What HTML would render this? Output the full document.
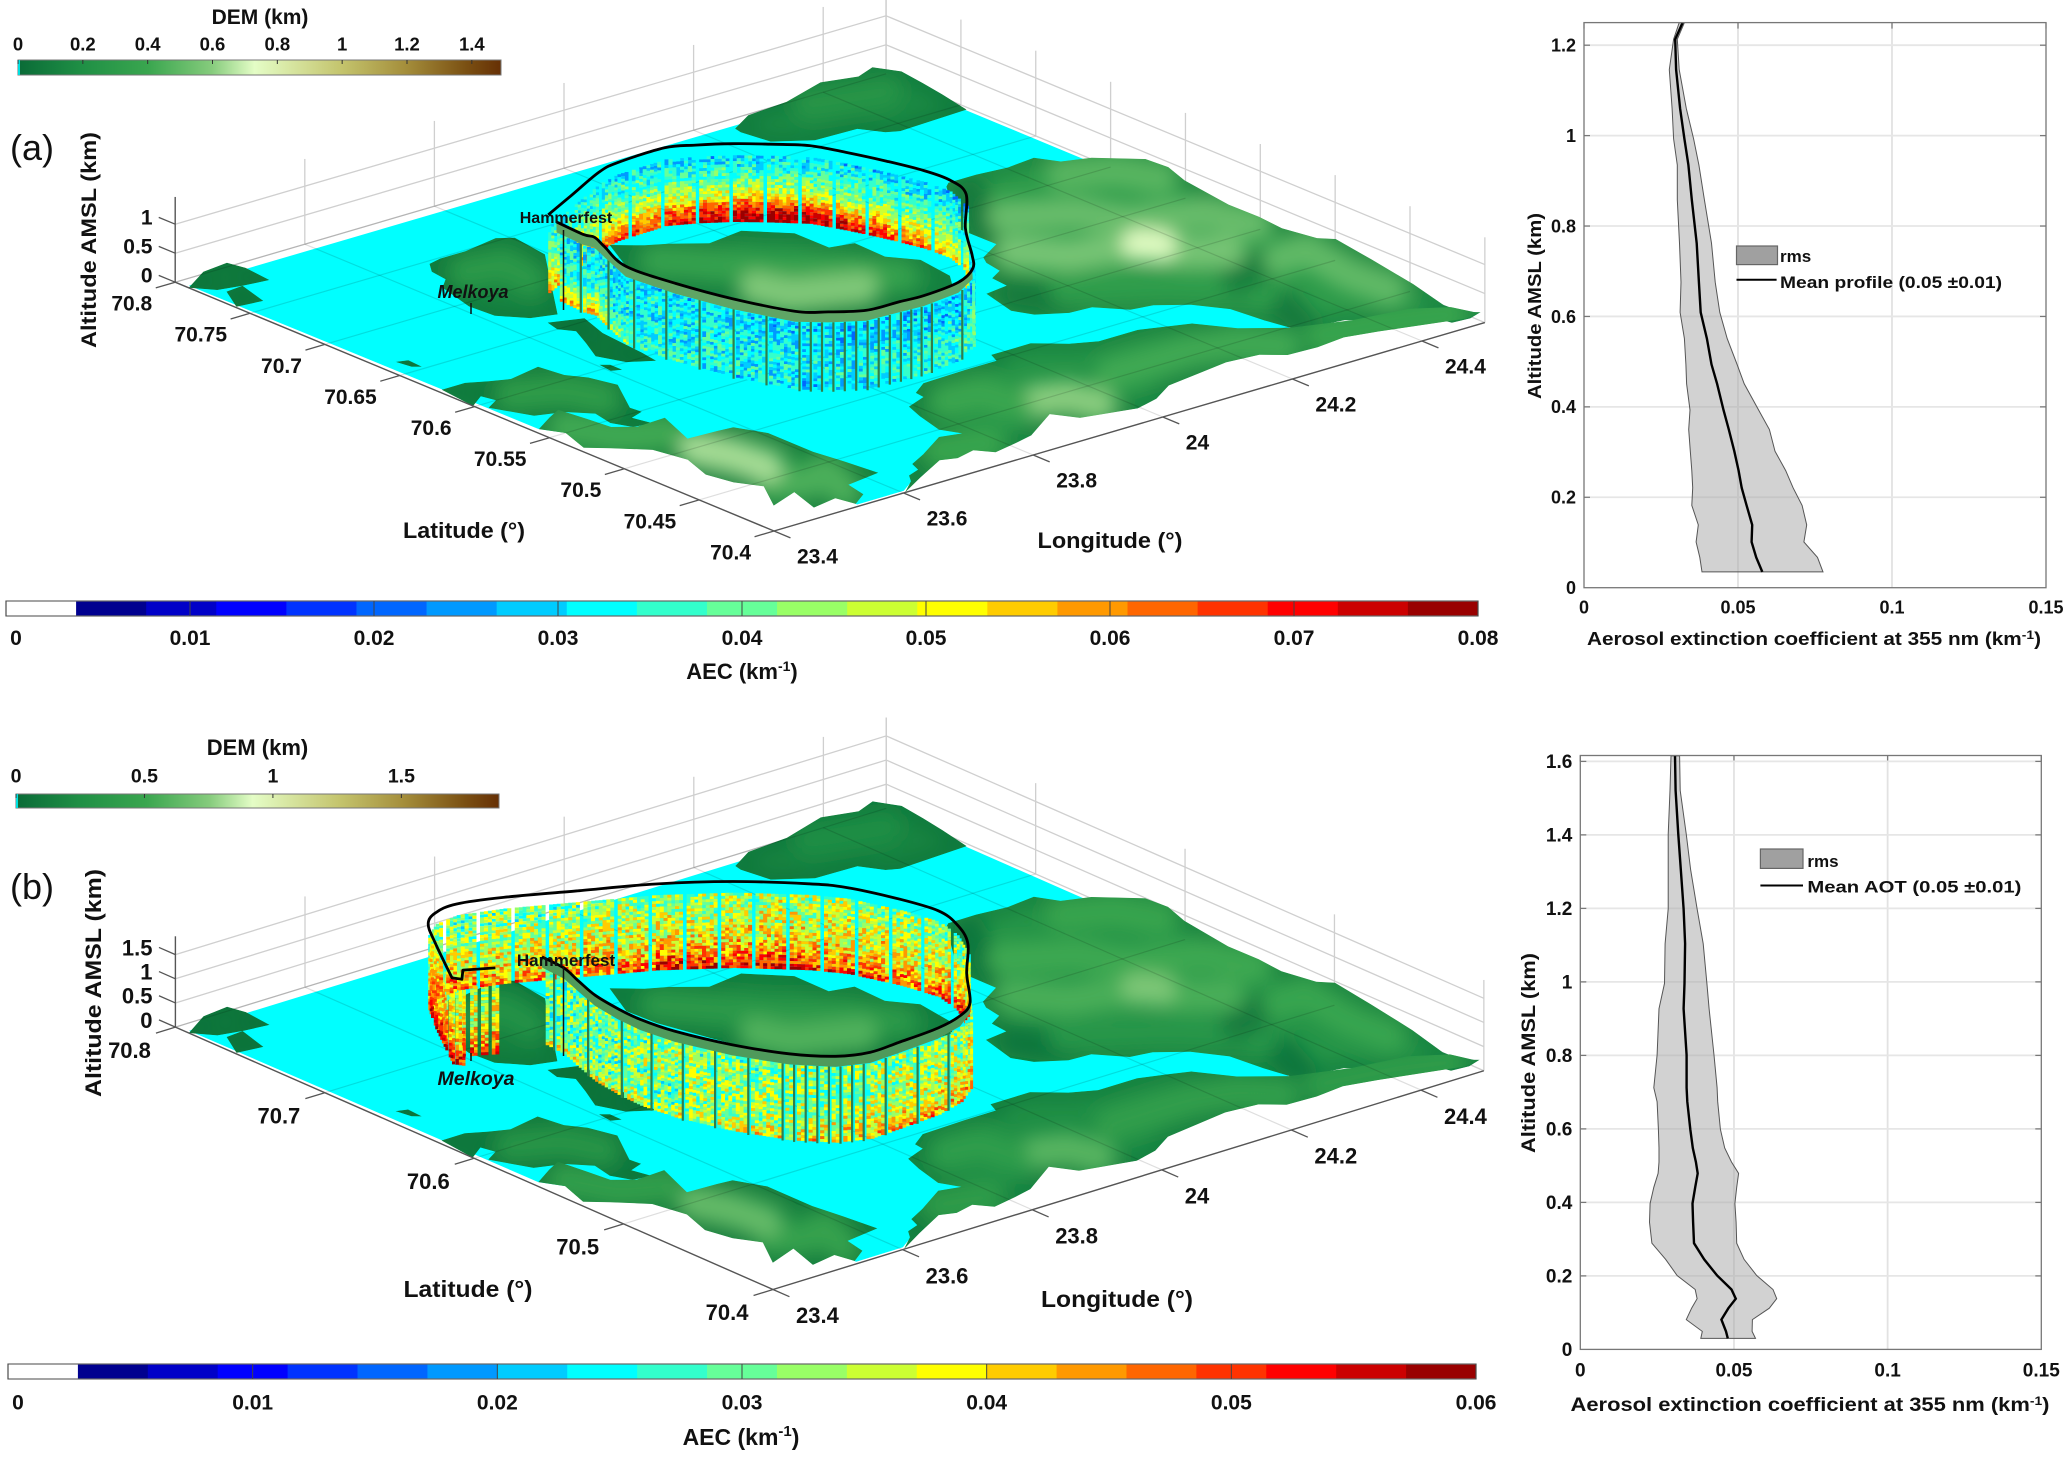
<!DOCTYPE html>
<html lang="en">
<head>
<meta charset="utf-8">
<title>AEC curtains over Hammerfest with mean extinction profiles</title>
<style>
html,body{margin:0;padding:0;background:#fff;}
svg{display:block;}
text{font-family:"Liberation Sans",sans-serif;fill:#111;}
.b{font-weight:700;}
</style>
</head>
<body>
<svg id="fig" xmlns="http://www.w3.org/2000/svg" width="2067" height="1458" viewBox="0 0 2067 1458">
<defs>
<filter id="soft" x="-20%" y="-20%" width="140%" height="140%"><feGaussianBlur stdDeviation="9"/></filter>
</defs>
<rect width="2067" height="1458" fill="#fff"/>

<g id="mapA"></g>
<g id="mapB"></g>
<g id="barsDem"></g>
<g id="barsAec"></g>
<g id="profA"></g>
<g id="profB"></g>

<!-- panel a static text -->
<text x="10" y="160" font-size="36">(a)</text>
<text class="b" x="260" y="24" font-size="21" text-anchor="middle">DEM (km)</text>
<text class="b" transform="translate(96 240) rotate(-90)" font-size="21" text-anchor="middle" textLength="216" lengthAdjust="spacingAndGlyphs">Altitude AMSL (km)</text>
<text class="b" x="464" y="538" font-size="22" text-anchor="middle" textLength="122" lengthAdjust="spacingAndGlyphs">Latitude (°)</text>
<text class="b" x="1110" y="548" font-size="22" text-anchor="middle" textLength="145" lengthAdjust="spacingAndGlyphs">Longitude (°)</text>
<text class="b" x="566" y="223" font-size="16" text-anchor="middle">Hammerfest</text>
<text class="b" x="473" y="298" font-size="18" font-style="italic" text-anchor="middle">Melkoya</text>
<line x1="471" y1="303" x2="471" y2="314" stroke="#111" stroke-width="1.5"/>
<line x1="563.5" y1="230" x2="563.5" y2="310" stroke="#111" stroke-width="1.5"/>
<text class="b" x="742" y="679" font-size="22" text-anchor="middle">AEC (km<tspan font-size="14" dy="-8">-1</tspan><tspan dy="8">)</tspan></text>
<text class="b" x="1814" y="645" font-size="18" text-anchor="middle" textLength="454" lengthAdjust="spacingAndGlyphs">Aerosol extinction coefficient at 355 nm (km<tspan font-size="12" dy="-6">-1</tspan><tspan dy="6">)</tspan></text>
<text class="b" transform="translate(1541 306) rotate(-90)" font-size="18" text-anchor="middle" textLength="186" lengthAdjust="spacingAndGlyphs">Altitude AMSL (km)</text>
<rect x="1736.5" y="246" width="41" height="18.6" fill="#a0a0a0" stroke="#666" stroke-width="1.2"/>
<text class="b" x="1780" y="262" font-size="17">rms</text>
<line x1="1736.5" y1="279.7" x2="1776.6" y2="279.7" stroke="#000" stroke-width="2"/>
<text class="b" x="1780" y="288" font-size="17" textLength="222" lengthAdjust="spacingAndGlyphs">Mean profile (0.05 ±0.01)</text>

<!-- panel b static text -->
<text x="10" y="899" font-size="36">(b)</text>
<text class="b" x="257.5" y="755" font-size="22" text-anchor="middle">DEM (km)</text>
<text class="b" transform="translate(101 983) rotate(-90)" font-size="22" text-anchor="middle" textLength="228" lengthAdjust="spacingAndGlyphs">Altitude AMSL (km)</text>
<text class="b" x="468" y="1297" font-size="23" text-anchor="middle" textLength="129" lengthAdjust="spacingAndGlyphs">Latitude (°)</text>
<text class="b" x="1117" y="1307" font-size="23" text-anchor="middle" textLength="152" lengthAdjust="spacingAndGlyphs">Longitude (°)</text>
<text class="b" x="566" y="966" font-size="17" text-anchor="middle">Hammerfest</text>
<text class="b" x="476" y="1085" font-size="19.5" font-style="italic" text-anchor="middle">Melkoya</text>
<line x1="471" y1="1053" x2="471" y2="1061" stroke="#111" stroke-width="1.5"/>
<line x1="563.5" y1="966" x2="563.5" y2="1056" stroke="#111" stroke-width="1.5"/>
<text class="b" x="741" y="1445" font-size="23" text-anchor="middle">AEC (km<tspan font-size="15" dy="-9">-1</tspan><tspan dy="9">)</tspan></text>
<text class="b" x="1810" y="1411" font-size="19" text-anchor="middle" textLength="479" lengthAdjust="spacingAndGlyphs">Aerosol extinction coefficient at 355 nm (km<tspan font-size="12" dy="-6">-1</tspan><tspan dy="6">)</tspan></text>
<text class="b" transform="translate(1535 1053) rotate(-90)" font-size="19" text-anchor="middle" textLength="200" lengthAdjust="spacingAndGlyphs">Altitude AMSL (km)</text>
<rect x="1760.4" y="849" width="42.6" height="19.4" fill="#a0a0a0" stroke="#666" stroke-width="1.2"/>
<text class="b" x="1807.4" y="867" font-size="17">rms</text>
<line x1="1760.4" y1="885.5" x2="1803" y2="885.5" stroke="#000" stroke-width="2"/>
<text class="b" x="1807.4" y="892.5" font-size="17" textLength="214" lengthAdjust="spacingAndGlyphs">Mean AOT (0.05 ±0.01)</text>
</svg>

<script>
/* ---------- axis tick values ---------- */
const latTicksA = [70.8,70.75,70.7,70.65,70.6,70.55,70.5,70.45,70.4];
const latTicksB = [70.8,70.7,70.6,70.5,70.4];
const lonTicks = [23.4,23.6,23.8,24,24.2,24.4];
const altTicksA = [0,0.5,1];
const altTicksB = [0,0.5,1,1.5];
const aecTicksA = [0,0.01,0.02,0.03,0.04,0.05,0.06,0.07,0.08];
const aecTicksB = [0,0.01,0.02,0.03,0.04,0.05,0.06];
const demTicksA = [0,0.2,0.4,0.6,0.8,1,1.2,1.4];
const demTicksB = [0,0.5,1,1.5];
const profXTicks = [0,0.05,0.1,0.15];
const profYTicksA = [0,0.2,0.4,0.6,0.8,1,1.2];
const profYTicksB = [0,0.2,0.4,0.6,0.8,1,1.2,1.4,1.6];

/* ---------- terrain: longitude, latitude of each land outline ---------- */
const seaOutline = [[23.405,70.793],[24.49,70.793],[24.49,70.64],[24.35,70.5],[24.309,70.449],[24.0,70.47],[23.9,70.46],[23.755,70.43],[23.65,70.413],[23.605,70.402],[23.533,70.402],[23.53,70.45],[23.5,70.5],[23.44,70.54],[23.409,70.561]];
const hillFar = [[24.241,70.79],[24.282,70.799],[24.346,70.801],[24.419,70.81],[24.466,70.805],[24.499,70.81],[24.516,70.798],[24.51,70.781],[24.503,70.765],[24.492,70.744],[24.385,70.742],[24.369,70.745],[24.351,70.756],[24.288,70.757],[24.245,70.768],[24.238,70.785]];
const hillEast = [[24.316,70.68],[24.359,70.68],[24.403,70.678],[24.448,70.68],[24.464,70.669],[24.5,70.664],[24.546,70.648],[24.549,70.634],[24.535,70.617],[24.522,70.582],[24.523,70.562],[24.519,70.545],[24.529,70.526],[24.544,70.52],[24.532,70.491],[24.516,70.456],[24.498,70.428],[24.5,70.416],[24.516,70.411],[24.493,70.408],[24.467,70.409],[24.462,70.417],[24.42,70.427],[24.375,70.441],[24.312,70.445],[24.302,70.463],[24.296,70.483],[24.27,70.498],[24.235,70.508],[24.204,70.51],[24.175,70.523],[24.142,70.524],[24.107,70.532],[24.094,70.542],[24.109,70.565],[24.145,70.567],[24.148,70.578],[24.171,70.583],[24.176,70.594],[24.185,70.6],[24.226,70.609],[24.225,70.634],[24.306,70.677]];
const hillSouthEast = [[23.98,70.506],[24.041,70.506],[24.075,70.495],[24.107,70.489],[24.167,70.489],[24.203,70.484],[24.23,70.48],[24.261,70.463],[24.309,70.449],[24.382,70.439],[24.458,70.434],[24.5,70.424],[24.512,70.411],[24.489,70.409],[24.381,70.421],[24.337,70.425],[24.292,70.423],[24.248,70.424],[24.223,70.432],[24.176,70.434],[24.126,70.431],[24.074,70.428],[24.034,70.419],[23.996,70.415],[23.923,70.422],[23.904,70.434],[23.841,70.419],[23.81,70.416],[23.772,70.413],[23.756,70.421],[23.725,70.418],[23.704,70.421],[23.649,70.41],[23.602,70.4],[23.632,70.409],[23.643,70.415],[23.664,70.418],[23.671,70.425],[23.702,70.431],[23.754,70.443],[23.783,70.44],[23.77,70.45],[23.782,70.468],[23.793,70.48],[23.827,70.485],[23.829,70.491],[23.857,70.498],[23.924,70.499],[23.972,70.499]];
const hillMelkoya = [[23.67,70.747],[23.691,70.749],[23.73,70.749],[23.786,70.753],[23.804,70.748],[23.795,70.724],[23.676,70.664],[23.643,70.668],[23.616,70.68],[23.613,70.696],[23.63,70.721],[23.651,70.728],[23.655,70.739]];
const hillMid = [[23.649,70.659],[23.692,70.653],[23.676,70.634],[23.669,70.605],[23.664,70.593],[23.634,70.6],[23.619,70.614],[23.639,70.629],[23.656,70.643],[23.643,70.65]];
const isletWest = [[23.426,70.664],[23.441,70.662],[23.439,70.652],[23.43,70.655]];
const isletEast = [[23.604,70.605],[23.614,70.602],[23.614,70.594],[23.601,70.596]];
const hillSouth = [[23.407,70.625],[23.443,70.625],[23.468,70.62],[23.493,70.616],[23.544,70.62],[23.55,70.605],[23.566,70.596],[23.577,70.581],[23.538,70.556],[23.54,70.549],[23.518,70.546],[23.525,70.535],[23.499,70.537],[23.487,70.547],[23.494,70.56],[23.47,70.57],[23.434,70.575],[23.41,70.595],[23.433,70.6],[23.428,70.608],[23.4,70.601]];
const hillFront = [[23.409,70.561],[23.444,70.569],[23.469,70.574],[23.475,70.557],[23.479,70.543],[23.503,70.536],[23.548,70.537],[23.523,70.511],[23.567,70.51],[23.589,70.509],[23.608,70.494],[23.608,70.464],[23.615,70.446],[23.621,70.426],[23.568,70.423],[23.561,70.41],[23.533,70.403],[23.527,70.414],[23.487,70.411],[23.503,70.431],[23.455,70.424],[23.488,70.445],[23.469,70.457],[23.461,70.472],[23.477,70.491],[23.467,70.51],[23.433,70.523],[23.409,70.531],[23.425,70.55]];
const hillNorthWest = [[23.4,70.791],[23.448,70.802],[23.489,70.804],[23.495,70.794],[23.49,70.776],[23.453,70.778],[23.421,70.781]];
const hillNorthWest2 = [[23.426,70.777],[23.453,70.778],[23.439,70.758],[23.402,70.76]];
const hillCentre = [[23.874,70.715],[23.905,70.705],[23.93,70.7],[23.968,70.689],[24.024,70.692],[24.067,70.675],[24.067,70.652],[24.1,70.649],[24.098,70.628],[24.123,70.615],[24.115,70.592],[24.092,70.58],[23.988,70.58],[23.915,70.591],[23.885,70.612],[23.864,70.641],[23.845,70.671],[23.842,70.69]];

/* ---------- terrain ridges and valleys: elevation (km) and line lon/lat ---------- */
const ridgesFar = [{elev:0.24,pts:[[24.362,70.793],[24.457,70.783]]}];
const ridgesEast = [
 {elev:0.08,pts:[[24.135,70.557],[24.164,70.536]]},
 {elev:0.08,pts:[[24.319,70.667],[24.249,70.627]]},
 {elev:0.08,pts:[[24.353,70.472],[24.328,70.449]]},
 {elev:0.32,pts:[[24.189,70.547],[24.29,70.522],[24.369,70.492]]},
 {elev:0.1,pts:[[24.369,70.51],[24.445,70.518]]},
 {elev:0.48,pts:[[24.435,70.656],[24.492,70.645],[24.517,70.625]]},
 {elev:0.52,pts:[[24.292,70.633],[24.369,70.615],[24.397,70.594],[24.483,70.58],[24.503,70.556]]},
 {elev:0.56,pts:[[24.223,70.598],[24.267,70.578],[24.361,70.568],[24.379,70.55],[24.421,70.538]]},
 {elev:0.72,pts:[[24.354,70.57],[24.371,70.562]]},
 {elev:0.5,pts:[[24.449,70.517],[24.494,70.518],[24.478,70.483],[24.483,70.457]]}];
const ridgesSouthEast = [
 {elev:0.42,pts:[[24.047,70.455],[24.166,70.455],[24.228,70.449],[24.265,70.434]]},
 {elev:0.38,pts:[[24.32,70.433],[24.423,70.426],[24.484,70.417]]},
 {elev:0.6,pts:[[23.919,70.451],[23.959,70.445],[23.97,70.429]]},
 {elev:0.4,pts:[[23.84,70.475],[23.888,70.473],[23.894,70.453]]},
 {elev:0.38,pts:[[23.725,70.43],[23.786,70.424]]}];
const ridgesMelkoya = [{elev:0.28,pts:[[23.685,70.73],[23.736,70.726],[23.727,70.704]]}];
const ridgesSouth = [{elev:0.3,pts:[[23.459,70.601],[23.516,70.59],[23.534,70.572]]}];
const ridgesFront = [
 {elev:0.42,pts:[[23.437,70.556],[23.465,70.532],[23.518,70.522]]},
 {elev:0.45,pts:[[23.503,70.446],[23.534,70.437],[23.577,70.442],[23.552,70.419]]},
 {elev:0.64,pts:[[23.509,70.5],[23.527,70.482],[23.533,70.462]]}];
const ridgesCentre = [
 {elev:0.36,pts:[[23.882,70.687],[23.926,70.668],[23.97,70.648],[24.022,70.632],[24.071,70.605]]},
 {elev:0.58,pts:[[23.914,70.635],[23.929,70.618],[23.968,70.612],[24.011,70.605]]}];

/* ---------- flight tracks (lon, lat of ground point) ---------- */
const trackA = [[23.71,70.685],[23.774,70.697],[23.848,70.711],[23.886,70.715],[23.961,70.716],[23.995,70.71],[24.032,70.701],[24.065,70.69],[24.097,70.678],[24.116,70.661],[24.133,70.642],[24.146,70.623],[24.149,70.607],[24.133,70.589],[24.058,70.557],[24.006,70.53],[23.977,70.517],[23.934,70.508],[23.874,70.505],[23.839,70.506],[23.79,70.507],[23.752,70.516],[23.723,70.526],[23.694,70.555],[23.676,70.585],[23.668,70.615],[23.691,70.639],[23.703,70.651],[23.699,70.657],[23.702,70.676]];
const trackB = [[23.631,70.686],[23.597,70.693],[23.577,70.685],[23.571,70.689],[23.628,70.725],[23.661,70.744],[23.691,70.752],[23.728,70.754],[23.784,70.747],[23.867,70.732],[23.95,70.717],[24.025,70.698],[24.089,70.675],[24.116,70.661],[24.14,70.636],[24.151,70.615],[24.14,70.598],[24.111,70.578],[24.047,70.551],[23.99,70.524],[23.954,70.515],[23.908,70.51],[23.843,70.508],[23.797,70.507],[23.757,70.513],[23.72,70.528],[23.687,70.552],[23.663,70.58],[23.656,70.6],[23.658,70.616],[23.665,70.634],[23.679,70.651],[23.693,70.667],[23.696,70.683]];

/* ---------- AEC per track segment, 6 altitude levels low to high (x 0.001 per km) ---------- */
const aecA = [[58,50,44,40,36,32],[62,52,44,40,36,32],[66,54,45,40,35,31],[68,58,46,40,35,30],[72,62,48,41,35,29],[76,68,50,42,35,29],[78,70,52,42,35,30],[78,70,50,42,35,29],[76,66,48,40,34,29],[72,60,46,39,34,29],[66,54,44,38,33,29],[60,50,42,37,32,28],[56,46,40,36,32,28],[50,44,38,34,31,28],[52,42,36,33,30,28],[34,36,36,32,30,28],[33,36,35,32,30,28],[32,35,34,31,29,27],[32,35,34,31,29,27],[31,34,34,31,29,28],[29,32,33,31,29,28],[29,31,33,31,30,29],[30,32,33,31,30,29],[33,33,33,32,31,30],[36,33,32,32,31,30],[44,36,33,32,31,30],[54,42,35,33,31,30],[62,46,36,34,32,31],[60,46,36,34,32,31]];
const aecB = [[50,42,38,36,34,31],[50,42,38,36,34,31],[52,44,40,38,35,32],[54,46,40,38,35,32],[54,46,40,37,34,31],[52,44,38,36,33,30],[48,42,37,35,32,30],[46,40,37,35,32,30],[46,40,37,35,32,30],[48,42,38,36,33,31],[54,45,39,36,34,32],[55,46,40,37,35,33],[52,44,39,37,35,33],[50,42,38,36,34,32],[48,42,38,35,33,31],[50,43,38,35,33,30],[50,43,38,35,32,30],[48,42,37,34,32,30],[46,40,36,34,32,30],[42,38,36,35,33,31],[42,38,36,34,33,31],[44,38,35,34,33,32],[44,38,35,34,33,31],[44,37,35,33,32,31],[42,36,34,33,32,31],[38,34,33,33,32,31],[36,32,32,33,32,31],[34,30,31,33,32,31],[36,31,31,32,31,30],[38,30,30,31,31,30],[40,30,29,30,31,30],[40,30,29,30,30,30],[40,30,29,30,30,29]];
/* columns between data gaps on each segment */
const gapsA = [9,9,9,9,9,9,9,9,9,9,9,9,9,9,9,9,9,9,3,3,3,3,9,9,9,9,9,9,9];
const gapsB = [3,3,9,9,9,9,9,9,9,9,9,9,9,9,9,9,9,9,9,9,9,9,9,3,3,9,9,9,9,11,11,11,11];
/* fine-scale departures of a retrieval cell from the local mean (x 0.001 per km) */
const speckleA = [3,-7,1,8,-4,-1,6,-8,2,5,-6,0,9,-3,-5,4,-2,7,-9,1,5,-4,8,-7,0,3,-6,6,-1,-8,4,2,-5,9,-2,-3,7,1,-9,5,-6];
const speckleB = [5,-9,2,10,-6,-1,8,-10,3,6,-7,0,11,-4,-8,7,-2,9,-11,1,6,-5,10,-8,0,4,-7,8,-3,-10,5,2,-6,12,-2,-4,9,1,-12,6,-7];

/* ---------- mean profile and rms envelope ---------- */
const profAltA = [0.035,0.067,0.101,0.139,0.182,0.221,0.259,0.302,0.35,0.393,0.451,0.494,0.551,0.609,0.676,0.762,0.858,0.935,0.993,1.06,1.146,1.213,1.25];
const profMeanA = [0.0579,0.0559,0.0544,0.0546,0.0528,0.0512,0.0502,0.0488,0.047,0.0453,0.0432,0.0414,0.0399,0.0379,0.0373,0.0366,0.035,0.0339,0.0326,0.0312,0.0299,0.0296,0.032];
const profLowA = [0.0383,0.0376,0.0364,0.0371,0.035,0.0353,0.035,0.0345,0.034,0.0344,0.0333,0.0331,0.0326,0.0312,0.0315,0.031,0.0303,0.0303,0.0291,0.0286,0.0277,0.0291,0.0309];
const profHighA = [0.0776,0.0758,0.0714,0.0723,0.0708,0.0679,0.0655,0.062,0.0602,0.0567,0.052,0.0497,0.0465,0.0441,0.0426,0.0414,0.0391,0.0373,0.0356,0.0332,0.0309,0.0303,0.0326];
const profAltB = [0.03,0.049,0.081,0.112,0.138,0.163,0.201,0.245,0.289,0.346,0.397,0.441,0.479,0.51,0.548,0.599,0.674,0.712,0.801,0.927,0.996,1.104,1.199,1.306,1.401,1.521,1.615];
const profMeanB = [0.048,0.0474,0.0459,0.0482,0.0506,0.0492,0.0445,0.0403,0.037,0.0367,0.0365,0.0374,0.0382,0.0376,0.0366,0.0358,0.0348,0.0346,0.0346,0.0336,0.0339,0.0341,0.0336,0.0327,0.0319,0.031,0.0308];
const profLowB = [0.0392,0.0397,0.0345,0.0362,0.038,0.0374,0.0315,0.0278,0.0233,0.0225,0.0227,0.0239,0.0253,0.0256,0.0256,0.0254,0.025,0.0239,0.025,0.0256,0.0274,0.0276,0.0286,0.0286,0.0286,0.0292,0.0295];
const profHighB = [0.057,0.0559,0.056,0.0615,0.0639,0.0627,0.0574,0.0533,0.0509,0.0507,0.0503,0.0509,0.0515,0.0492,0.047,0.0456,0.0447,0.0445,0.0435,0.0419,0.0412,0.04,0.038,0.0359,0.0345,0.0325,0.0323];

/* ---------- colour maps ---------- */
const aecColors = ['#ffffff','#00008f','#0000c8','#0000ff','#0033ff','#0066ff','#0099ff','#00ccff','#00ffff','#33ffcc','#66ff99','#99ff66','#ccff33','#ffff00','#ffcc00','#ff9900','#ff6600','#ff3300','#ff0000','#cc0000','#990000'];
const demStops = [[0,10,107,55],[0.13,31,143,69],[0.27,58,166,79],[0.4,133,203,124],[0.49,228,253,198],[0.67,196,196,109],[0.8,165,143,60],[0.93,122,79,18],[1,102,48,5]];
function demColor(f){
  f = Math.max(0,Math.min(1,f));
  for(let i=1;i<demStops.length;i++){
    if(f<=demStops[i][0]){
      const a=demStops[i-1], b=demStops[i], t=(f-a[0])/(b[0]-a[0]);
      return 'rgb('+[1,2,3].map(function(k){return Math.round(a[k]+(b[k]-a[k])*t);}).join(',')+')';
    }
  }
  return 'rgb(102,48,5)';
}

/* ---------- helpers ---------- */
const NS = 'http://www.w3.org/2000/svg';
function svgEl(tag, attrs){
  const el = document.createElementNS(NS, tag);
  for(const k in attrs){ el.setAttribute(k, attrs[k]); }
  return el;
}
const LON0 = 23.4, LAT0 = 70.4, LON_MAX = 24.497, LAT_MAX = 70.8;
function project(geo, lon, lat, alt){
  const a = lon-LON0, b = lat-LAT0;
  return { x: geo.ox + a*geo.lonX + b*geo.latX, y: geo.oy + a*geo.lonY + b*geo.latY - (alt||0)*geo.zY };
}
function ptsAttr(geo, list, alt){
  return list.map(function(p){ const q = project(geo,p[0],p[1],alt); return q.x.toFixed(1)+','+q.y.toFixed(1); }).join(' ');
}
/* smooth curve through projected track points; straight up to index `from` */
function smoothPath(geo, list, alt, from){
  const q = list.map(function(p){ return project(geo,p[0],p[1],alt); });
  let d = 'M'+q[0].x.toFixed(1)+' '+q[0].y.toFixed(1);
  for(let i=0;i<q.length-1;i++){
    const p1=q[i], p2=q[i+1];
    if(i<from){ d += 'L'+p2.x.toFixed(1)+' '+p2.y.toFixed(1); continue; }
    const p0=q[Math.max(from,i-1)], p3=q[Math.min(q.length-1,i+2)];
    d += 'C'+(p1.x+(p2.x-p0.x)/6).toFixed(1)+' '+(p1.y+(p2.y-p0.y)/6).toFixed(1)+' '+(p2.x-(p3.x-p1.x)/6).toFixed(1)+' '+(p2.y-(p3.y-p1.y)/6).toFixed(1)+' '+p2.x.toFixed(1)+' '+p2.y.toFixed(1);
  }
  return d;
}

let clipCount = 0;
function drawHill(parent, geo, outline, base, ridges){
  const id = 'hillclip'+(clipCount++);
  const cp = svgEl('clipPath',{id:id});
  const cpPoly = svgEl('polygon',{points:ptsAttr(geo,outline)});
  cp.appendChild(cpPoly);
  parent.appendChild(cp);
  const g = svgEl('g',{'clip-path':'url(#'+id+')'});
  
  
  const basePoly = svgEl('polygon',{points:ptsAttr(geo,outline),fill:demColor(base/geo.demMax)});
  g.appendChild(basePoly);
  const soft = svgEl('g',{filter:'url(#soft)'});
  const edge = svgEl('polygon',{points:ptsAttr(geo,outline),fill:'none',stroke:demColor(0),'stroke-width':14,'stroke-opacity':0.5});
  soft.appendChild(edge);
  ridges.forEach(function(r){
    const line = svgEl('polyline',{points:ptsAttr(geo,r.pts),fill:'none',stroke:demColor(r.elev/geo.demMax),'stroke-width':32,'stroke-linecap':'round','stroke-linejoin':'round'});
    soft.appendChild(line);
  });
  g.appendChild(soft);
  parent.appendChild(g);
}

function drawWall(parent, geo, track, levels, gaps, speckle, from, to, front){
  const paths = {};
  let gapPath = '';
  let col = 0;
  const rows = Math.floor((geo.cellTop-0.03)/geo.rowKm);
  for(let i=from;i<to;i++){
    const p0 = project(geo,track[i][0],track[i][1],0);
    const p1 = project(geo,track[i+1][0],track[i+1][1],0);
    const len = Math.hypot(p1.x-p0.x,p1.y-p0.y);
    const n = Math.max(1,Math.round(len/geo.colW));
    const lev = levels[i];
    for(let k=0;k<n;k++){
      const x = p0.x+(p1.x-p0.x)*k/n;
      const y = p0.y+(p1.y-p0.y)*k/n;
      const w = Math.max(3,Math.abs(p1.x-p0.x)/n+0.3);
      col++;
      if(col%gaps[i]===0){
        if(front){
          const yTop = y-geo.cellTop*geo.zY;
          gapPath += 'M'+x.toFixed(1)+' '+yTop.toFixed(1)+'h2.2v'+(geo.cellTop*geo.zY).toFixed(1)+'h-2.2z';
        }
        continue;
      }
      for(let r=0;r<rows;r++){
        const t = (r+0.5)/rows*(lev.length-1);
        const j = Math.min(lev.length-2,Math.floor(t));
        const mean = lev[j]+(lev[j+1]-lev[j])*(t-j);
        const s = speckle[(col*17+r*29+(col*r)%13)%speckle.length]*geo.speckleGain;
        const idx = Math.max(1,Math.min(20,Math.floor((mean+s)/geo.aecMax*21)));
        const yc = y-(0.03+(r+1)*geo.rowKm)*geo.zY;
        const h = geo.rowKm*geo.zY;
        paths[idx] = (paths[idx]||'')+'M'+x.toFixed(1)+' '+yc.toFixed(1)+'h'+w.toFixed(1)+'v'+h.toFixed(1)+'h-'+w.toFixed(1)+'z';
      }
    }
  }
  for(const idx in paths){
    const cells = svgEl('path',{d:paths[idx],fill:aecColors[idx]});
    
    
    parent.appendChild(cells);
  }
  if(gapPath){
    const gapMarks = svgEl('path',{d:gapPath,fill:'#2f7f49'});
    
    
    parent.appendChild(gapMarks);
  }
}

function drawMap(root, geo, latTicks, lonValues, altTicks, track, levels, gaps, speckle, frontFrom, lip){
  const wallColor = '#cfcfcf', axisColor = '#555';
  const left0 = project(geo,LON0,LAT_MAX,0), back0 = project(geo,LON_MAX,LAT_MAX,0), right0 = project(geo,LON_MAX,LAT0,0);

  altTicks.forEach(function(z){
    const a=project(geo,LON0,LAT_MAX,z), b=project(geo,LON_MAX,LAT_MAX,z), c=project(geo,LON_MAX,LAT0,z);
    const wall = svgEl('polyline',{points:[a,b,c].map(function(q){return q.x+','+q.y;}).join(' '),fill:'none',stroke:wallColor,'stroke-width':1.3});
    
    
    root.appendChild(wall);
  });
  lonValues.concat([LON_MAX]).forEach(function(lon){
    if(lon===LON0) return;
    const a=project(geo,lon,LAT_MAX,0), b=project(geo,lon,LAT_MAX,geo.zTop);
    const v = svgEl('line',{x1:a.x,y1:a.y,x2:b.x,y2:b.y,stroke:wallColor,'stroke-width':1.3});
    
    
    root.appendChild(v);
  });
  latTicks.forEach(function(lat){
    const a=project(geo,LON_MAX,lat,0), b=project(geo,LON_MAX,lat,geo.zTop);
    const v = svgEl('line',{x1:a.x,y1:a.y,x2:b.x,y2:b.y,stroke:wallColor,'stroke-width':1.3});
    
    
    root.appendChild(v);
  });

  const sea = svgEl('polygon',{points:ptsAttr(geo,seaOutline),fill:'#00ffff'});
  
  
  root.appendChild(sea);

  drawHill(root,geo,hillFar,0.16,ridgesFar);
  drawHill(root,geo,hillEast,0.3,ridgesEast);
  drawHill(root,geo,hillSouthEast,0.24,ridgesSouthEast);
  drawHill(root,geo,hillMelkoya,0.14,ridgesMelkoya);
  drawHill(root,geo,hillMid,0.08,[]);
  drawHill(root,geo,isletWest,0.08,[]);
  drawHill(root,geo,isletEast,0.08,[]);
  drawHill(root,geo,hillSouth,0.15,ridgesSouth);
  drawHill(root,geo,hillFront,0.2,ridgesFront);
  drawHill(root,geo,hillNorthWest,0.1,[]);
  drawHill(root,geo,hillNorthWest2,0.1,[]);

  /* floor grid */
  latTicks.forEach(function(lat){
    const a=project(geo,LON0,lat,0), b=project(geo,LON_MAX,lat,0);
    const l = svgEl('line',{x1:a.x,y1:a.y,x2:b.x,y2:b.y,stroke:'#000','stroke-opacity':0.13,'stroke-width':1.2});
    
    
    root.appendChild(l);
  });
  lonValues.forEach(function(lon){
    const a=project(geo,lon,LAT0,0), b=project(geo,lon,LAT_MAX,0);
    const l = svgEl('line',{x1:a.x,y1:a.y,x2:b.x,y2:b.y,stroke:'#000','stroke-opacity':0.13,'stroke-width':1.2});
    
    
    root.appendChild(l);
  });

  /* axes */
  const origin = project(geo,LON0,LAT0,0);
  const latAxis = svgEl('line',{x1:left0.x,y1:left0.y,x2:origin.x,y2:origin.y,stroke:axisColor,'stroke-width':1.4});
  
  
  root.appendChild(latAxis);
  const lonAxis = svgEl('line',{x1:origin.x,y1:origin.y,x2:right0.x,y2:right0.y,stroke:axisColor,'stroke-width':1.4});
  
  
  root.appendChild(lonAxis);
  const zTopPt = project(geo,LON0,LAT_MAX,geo.zTop);
  const altAxis = svgEl('line',{x1:left0.x,y1:left0.y,x2:zTopPt.x,y2:zTopPt.y,stroke:axisColor,'stroke-width':1.4});
  
  
  root.appendChild(altAxis);

  latTicks.forEach(function(lat){
    const a=project(geo,LON0,lat,0), b=project(geo,LON0-0.03,lat,0);
    const t = svgEl('line',{x1:a.x,y1:a.y,x2:b.x,y2:b.y,stroke:axisColor,'stroke-width':1.3});
    
    
    root.appendChild(t);
    const lab = svgEl('text',{x:a.x-geo.latLabX,y:a.y+geo.latLabY,'font-size':geo.tickFont,'text-anchor':'end',dy:'0.35em','font-weight':700});
    
    
    lab.textContent = String(lat);
    root.appendChild(lab);
  });
  lonValues.forEach(function(lon){
    const a=project(geo,lon,LAT0,0), b=project(geo,lon,LAT0-0.011,0);
    const t = svgEl('line',{x1:a.x,y1:a.y,x2:b.x,y2:b.y,stroke:axisColor,'stroke-width':1.3});
    
    
    root.appendChild(t);
    const lab = svgEl('text',{x:a.x+23,y:a.y+geo.lonLabY,'font-size':geo.tickFont,dy:'0.35em','font-weight':700});
    
    
    lab.textContent = String(lon);
    root.appendChild(lab);
  });
  altTicks.forEach(function(z){
    const a=project(geo,LON0,LAT_MAX,z), b=project(geo,LON0,LAT_MAX+0.011,z);
    const t = svgEl('line',{x1:a.x,y1:a.y,x2:b.x,y2:b.y,stroke:axisColor,'stroke-width':1.3});
    
    
    root.appendChild(t);
    const lab = svgEl('text',{x:152.5,y:a.y-7,'font-size':geo.tickFont,'text-anchor':'end',dy:'0.35em','font-weight':700});
    
    
    lab.textContent = String(z);
    root.appendChild(lab);
  });

  /* curtain and inner land */
  drawWall(root,geo,track,levels,gaps,speckle,0,frontFrom,false);
  drawHill(root,geo,hillCentre,0.18,ridgesCentre);
  drawWall(root,geo,track,levels,gaps,speckle,frontFrom,track.length-1,true);

  const frontPts = track.slice(frontFrom);
  const upper = frontPts.map(function(p){const q=project(geo,p[0],p[1],geo.trackAlt);return q.x.toFixed(1)+','+q.y.toFixed(1);});
  const lower = frontPts.slice().reverse().map(function(p){const q=project(geo,p[0],p[1],geo.cellTop);return q.x.toFixed(1)+','+q.y.toFixed(1);});
  const rim = svgEl('polygon',{points:upper.concat(lower).join(' '),fill:lip});
  
  
  root.appendChild(rim);

  const flight = svgEl('path',{d:smoothPath(geo,track,geo.trackAlt,geo.smoothFrom),fill:'none',stroke:'#000','stroke-width':2.8,'stroke-linejoin':'round'});
  
  
  root.appendChild(flight);
}

const geoA = {ox:774,oy:531,lonX:648,lonY:-190,latX:-1497,latY:-622,zY:58,zTop:1.47,demMax:1.49,aecMax:80,rowKm:0.05,colW:3.8,cellTop:1.2,trackAlt:1.38,speckleGain:0.85,smoothFrom:0,tickFont:21,latLabX:23,latLabY:21,lonLabY:25};
const geoB = {ox:773,oy:1289.5,lonX:648,lonY:-199.4,latX:-1494,latY:-656,zY:48.3,zTop:1.88,demMax:1.88,aecMax:60,rowKm:0.06,colW:3.8,cellTop:1.6,trackAlt:1.82,speckleGain:0.75,smoothFrom:3,tickFont:22,latLabX:24.5,latLabY:23,lonLabY:26};

drawMap(document.getElementById('mapA'),geoA,latTicksA,lonTicks,altTicksA,trackA,aecA,gapsA,speckleA,15,'#5fa565');
drawMap(document.getElementById('mapB'),geoB,latTicksB,lonTicks,altTicksB,trackB,aecB,gapsB,speckleB,19,'#4f9a5b');

/* ---------- colorbars ---------- */
function drawAecBar(root, x0, x1, y0, y1, ticks, vmax, labelY, fontSize){
  const cw = (x1-x0)/aecColors.length;
  aecColors.forEach(function(c,i){
    const cell = svgEl('rect',{x:x0+i*cw,y:y0,width:cw+0.4,height:y1-y0,fill:c});
    
    
    root.appendChild(cell);
  });
  const frame = svgEl('rect',{x:x0,y:y0,width:x1-x0,height:y1-y0,fill:'none',stroke:'#666','stroke-width':1.2});
  
  
  root.appendChild(frame);
  ticks.forEach(function(v){
    const x = x0+(x1-x0)*v/vmax;
    const t = svgEl('line',{x1:x,y1:y0,x2:x,y2:y1,stroke:'#444','stroke-width':1});
    
    
    root.appendChild(t);
    const lab = svgEl('text',{x:v===0?x+10:x,y:labelY,'font-size':fontSize,'text-anchor':'middle',dy:'0.35em','font-weight':700});
    
    
    lab.textContent = String(v);
    root.appendChild(lab);
  });
}
drawAecBar(document.getElementById('barsAec'),6,1478,601,616,aecTicksA,0.08,637.5,21);
drawAecBar(document.getElementById('barsAec'),8,1476,1364,1379,aecTicksB,0.06,1402,21);

function drawDemBar(root, x0, x1, y0, y1, ticks, vmax, labelY, fontSize, id){
  const grad = svgEl('linearGradient',{id:id,x1:0,y1:0,x2:1,y2:0});
  demStops.forEach(function(s){
    const stop = svgEl('stop',{offset:s[0],'stop-color':'rgb('+s[1]+','+s[2]+','+s[3]+')'});
    grad.appendChild(stop);
  });
  root.appendChild(grad);
  const bar = svgEl('rect',{x:x0,y:y0,width:x1-x0,height:y1-y0,fill:'url(#'+id+')',stroke:'#777','stroke-width':1});
  
  
  root.appendChild(bar);
  const water = svgEl('rect',{x:x0,y:y0,width:2,height:y1-y0,fill:'#00e0e0'});
  
  
  root.appendChild(water);
  ticks.forEach(function(v){
    const x = x0+(x1-x0)*v/vmax;
    const t = svgEl('line',{x1:x,y1:y0,x2:x,y2:y0+4,stroke:'#333','stroke-width':1});
    
    
    root.appendChild(t);
    const lab = svgEl('text',{x:x,y:labelY,'font-size':fontSize,'text-anchor':'middle',dy:'0.35em','font-weight':700});
    
    
    lab.textContent = String(v);
    root.appendChild(lab);
  });
}
drawDemBar(document.getElementById('barsDem'),18,501,60,75,demTicksA,1.49,44,18.5,'demGradA');
drawDemBar(document.getElementById('barsDem'),16,499,794,808,demTicksB,1.88,775.5,19.5,'demGradB');

/* ---------- line profiles ---------- */
function drawProfile(root, box, xMax, yMax, yTicks, alts, mean, low, high){
  const xs = function(v){ return box.x0+(box.x1-box.x0)*v/xMax; };
  const ys = function(v){ return box.y1-(box.y1-box.y0)*v/yMax; };
  profXTicks.forEach(function(v){
    if(v>0 && v<xMax){
      const g = svgEl('line',{x1:xs(v),y1:box.y0,x2:xs(v),y2:box.y1,stroke:'#e2e2e2','stroke-width':1.8});
      
      
      root.appendChild(g);
    }
    const lab = svgEl('text',{x:xs(v),y:box.labY,'font-size':box.font,'text-anchor':'middle',dy:'0.35em','font-weight':700});
    
    
    lab.textContent = String(v);
    root.appendChild(lab);
    const tick = svgEl('line',{x1:xs(v),y1:box.y0,x2:xs(v),y2:box.y0+6,stroke:'#777','stroke-width':1.2});
    
    
    root.appendChild(tick);
  });
  yTicks.forEach(function(v){
    if(v>0){
      const g = svgEl('line',{x1:box.x0,y1:ys(v),x2:box.x1,y2:ys(v),stroke:'#e6e6e6','stroke-width':1.8});
      
      
      root.appendChild(g);
      const t1 = svgEl('line',{x1:box.x0,y1:ys(v),x2:box.x0+6,y2:ys(v),stroke:'#777','stroke-width':1.2});
      
      
      root.appendChild(t1);
      const t2 = svgEl('line',{x1:box.x1-6,y1:ys(v),x2:box.x1,y2:ys(v),stroke:'#777','stroke-width':1.2});
      
      
      root.appendChild(t2);
    }
    const lab = svgEl('text',{x:box.x0-8,y:ys(v),'font-size':box.font,'text-anchor':'end',dy:'0.35em','font-weight':700});
    
    
    lab.textContent = String(v);
    root.appendChild(lab);
  });
  let d = '';
  high.forEach(function(v,i){ d += (i?'L':'M')+xs(v).toFixed(1)+' '+ys(alts[i]).toFixed(1); });
  for(let i=low.length-1;i>=0;i--){ d += 'L'+xs(low[i]).toFixed(1)+' '+ys(alts[i]).toFixed(1); }
  d += 'Z';
  const band = svgEl('path',{d:d,fill:'#a6a6a6','fill-opacity':0.5,stroke:'#555','stroke-width':1});
  
  
  root.appendChild(band);
  let m = '';
  mean.forEach(function(v,i){ m += (i?'L':'M')+xs(v).toFixed(1)+' '+ys(alts[i]).toFixed(1); });
  const line = svgEl('path',{d:m,fill:'none',stroke:'#000','stroke-width':2.4});
  
  
  root.appendChild(line);
  const frame = svgEl('rect',{x:box.x0,y:box.y0,width:box.x1-box.x0,height:box.y1-box.y0,fill:'none',stroke:'#777','stroke-width':1.3});
  
  
  root.appendChild(frame);
}
drawProfile(document.getElementById('profA'),{x0:1584,x1:2046,y0:22.6,y1:587.7,labY:607,font:18},0.15,1.25,profYTicksA,profAltA,profMeanA,profLowA,profHighA);
drawProfile(document.getElementById('profB'),{x0:1580.3,x1:2041.3,y0:755.5,y1:1349.4,labY:1370,font:19},0.15,1.616,profYTicksB,profAltB,profMeanB,profLowB,profHighB);
</script>
</body>
</html>
